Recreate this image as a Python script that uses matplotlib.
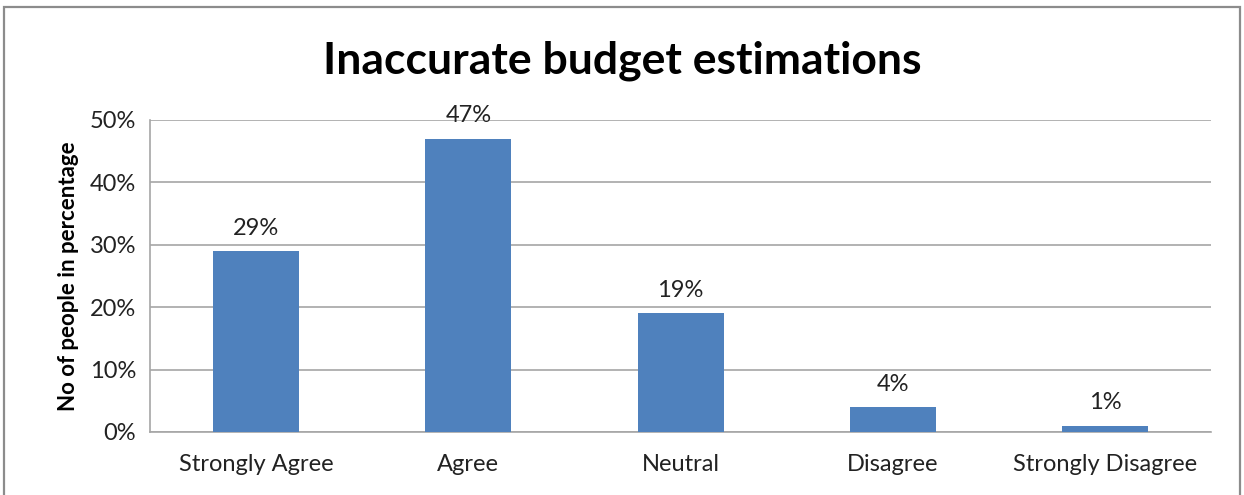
import matplotlib
matplotlib.use("Agg")
from matplotlib import pyplot as plt
from matplotlib import patches as patches

categories = ["Strongly Agree", "Agree", "Neutral", "Disagree", "Strongly Disagree"]
percentages = [29, 47, 19, 4, 1]
y_ticks = [0, 10, 20, 30, 40, 50]

bar_color = "#4f81bd"
grid_color = "#a6a6a6"
text_color = "#222222"
font = "Lato"

fig = plt.figure(figsize=(12.44, 4.95), dpi=100)
ax = fig.add_axes([0.1206, 0.1273, 0.853, 0.6303])

# outer chart border (open at the bottom edge of the image)
frame = patches.Rectangle((4 / 1244, -0.05), 1236 / 1244, 0.05 + (495 - 7) / 495,
                          transform=fig.transFigure, fill=False,
                          edgecolor="#8c8c8c", linewidth=1.6, clip_on=False)
fig.patches.append(frame)

x = range(len(categories))
ax.bar(x, percentages, width=0.405, color=bar_color, zorder=3)

for xi, v in zip(x, percentages):
    ax.annotate(f"{v}%", (xi, v), xytext=(0, 9), textcoords="offset points",
                ha="center", va="bottom", fontsize=17, family=font, color=text_color)

ax.set_xlim(-0.5, len(categories) - 0.5)
ax.set_ylim(0, 50)
ax.set_yticks(y_ticks)
ax.set_yticklabels([f"{t}%" for t in y_ticks], fontsize=17, family=font, color=text_color)
ax.set_xticks(list(x))
ax.set_xticklabels(categories, fontsize=17, family=font, color=text_color)
ax.tick_params(axis="y", length=0, pad=10)
ax.tick_params(axis="x", length=0, pad=16)

ax.grid(axis="y", color=grid_color, linewidth=1.2, zorder=0)
for side in ["top", "right"]:
    ax.spines[side].set_visible(False)
for side in ["left", "bottom"]:
    ax.spines[side].set_color(grid_color)
    ax.spines[side].set_linewidth(1.2)

ax.set_ylabel("No of people in percentage", fontsize=16, family=font,
              fontweight="bold", labelpad=8)
fig.text(0.5, 0.878, "Inaccurate budget estimations", ha="center", va="center",
         fontsize=32, family=font, fontweight="bold", color="black")

fig.savefig("out.png", dpi=100)
